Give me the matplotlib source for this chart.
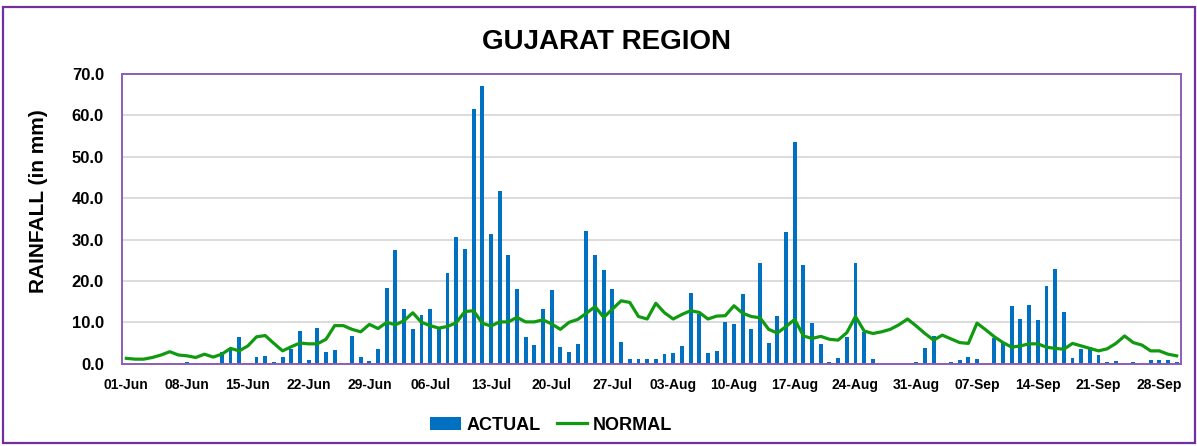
import matplotlib
matplotlib.use("Agg")
import matplotlib.pyplot as plt
import numpy as np
import pandas as pd
from matplotlib.patches import Rectangle, Patch
from matplotlib.lines import Line2D

plt.rcParams['font.family'] = ['Liberation Sans', 'DejaVu Sans']

# Daily rainfall, 01-Jun to 30-Sep
dates = pd.date_range("2023-06-01", "2023-09-30", freq="D")

actual = [
    0, 0, 0, 0, 0, 0, 0, 0.3, 0, 0,
    0, 2.9, 3.3, 6.5, 0, 1.5, 1.9, 0.3, 1.5, 3.5,
    8.0, 1.0, 8.6, 2.8, 3.2, 0, 6.7, 1.5, 0.7, 3.5,
    18.2, 27.4, 13.1, 8.5, 11.8, 13.1, 8.3, 21.8, 30.7, 27.7,
    61.6, 67.2, 31.4, 41.8, 26.3, 18.0, 6.4, 4.4, 13.3, 17.8,
    4.1, 2.8, 4.8, 32.1, 26.3, 22.7, 18.0, 5.3, 1.2, 1.1,
    1.1, 1.2, 2.3, 2.7, 4.3, 17.0, 12.0, 2.7, 3.1, 10.1,
    9.5, 16.9, 8.4, 24.4, 5.0, 11.5, 31.9, 53.5, 23.8, 9.8,
    4.7, 0.5, 1.4, 6.4, 24.4, 7.7, 1.1, 0, 0, 0,
    0, 0.4, 3.7, 6.7, 0, 0.4, 0.9, 1.5, 1.2, 0,
    6.2, 5.3, 14.0, 10.8, 14.2, 10.5, 18.8, 22.9, 12.5, 1.4,
    3.6, 4.0, 2.2, 0.4, 0.6, 0, 0.4, 0, 0.9, 0.9,
    0.9, 0.3,
]

normal = [
    1.3, 1.1, 1.1, 1.5, 2.1, 2.9, 2.1, 1.9, 1.5, 2.3,
    1.6, 2.3, 3.7, 3.1, 4.3, 6.5, 6.8, 4.9, 3.1, 4.1,
    5.0, 4.8, 4.8, 5.9, 9.2, 9.2, 8.3, 7.7, 9.5, 8.5,
    10.0, 9.4, 10.4, 12.3, 10.0, 9.2, 8.6, 9.0, 9.9, 12.6,
    12.8, 9.8, 9.1, 10.1, 10.1, 11.2, 10.1, 10.1, 10.6, 9.6,
    8.3, 10.0, 10.7, 12.2, 13.8, 11.2, 13.2, 15.2, 14.8, 11.4,
    10.8, 14.6, 12.3, 10.8, 11.9, 12.8, 12.4, 10.8, 11.5, 11.6,
    14.0, 12.2, 11.4, 11.1, 8.3, 7.4, 9.0, 10.7, 6.7, 6.1,
    6.6, 5.9, 5.7, 7.5, 11.4, 7.9, 7.3, 7.7, 8.3, 9.4,
    10.8, 9.1, 7.3, 5.7, 6.9, 6.0, 5.1, 4.9, 9.8, 8.2,
    6.5, 5.1, 4.0, 4.3, 4.8, 4.8, 4.0, 3.7, 3.5, 4.9,
    4.3, 3.7, 3.1, 3.6, 4.9, 6.7, 5.1, 4.5, 3.1, 3.1,
    2.3, 1.9,
]

tick_labels = ["01-Jun", "08-Jun", "15-Jun", "22-Jun", "29-Jun", "06-Jul",
               "13-Jul", "20-Jul", "27-Jul", "03-Aug", "10-Aug", "17-Aug",
               "24-Aug", "31-Aug", "07-Sep", "14-Sep", "21-Sep", "28-Sep"]

BLUE = "#0070C0"
GREEN = "#109A10"
PURPLE = "#7030A0"
PLOT_PURPLE = "#8E5CB8"

W, H = 1197, 446
fig = plt.figure(figsize=(W / 100, H / 100), dpi=100)

# outer chart frame
fig.patches.append(Rectangle((3 / W, 3 / H), (W - 5) / W, (H - 10) / H,
                             transform=fig.transFigure, fill=False,
                             edgecolor=PURPLE, linewidth=1.6, zorder=0))

ax = fig.add_axes([122 / W, (H - 363.7) / H, (1181 - 122) / W, (363.7 - 74) / H])

x = np.arange(len(dates))
ax.bar(x, actual, width=0.45, color=BLUE, zorder=2)
ax.plot(x, normal, color=GREEN, linewidth=2.3, zorder=3, solid_joinstyle='round')

ax.set_xlim(-0.5, len(dates) - 0.5)
ax.set_ylim(0, 70)
ax.set_yticks(np.arange(0, 71, 10))
ax.set_yticklabels([f"{v:.1f}" for v in np.arange(0, 71, 10)],
                   fontsize=12, fontweight='bold')
ax.set_xticks(x[::7])
ax.set_xticklabels(tick_labels, fontsize=10, fontweight='bold')
ax.tick_params(axis='y', length=0, pad=13)
ax.tick_params(axis='x', length=0, pad=10)

ax.grid(axis='y', color='#D9D9D9', linewidth=1.3, zorder=0)
ax.set_axisbelow(True)
for s in ax.spines.values():
    s.set_color(PLOT_PURPLE)
    s.set_linewidth(1.4)

ax.set_ylabel("RAINFALL (in mm)", fontsize=15, fontweight='bold')
ax.yaxis.set_label_coords(-(122 - 48) / (1181 - 122), 0.56)

fig.text(606 / W, 1 - 42 / H, "GUJARAT REGION", ha='center', va='center',
         fontsize=20, fontweight='bold')

handles = [Patch(facecolor=BLUE, edgecolor='none'),
           Line2D([0], [0], color=GREEN, linewidth=2.3)]
leg = fig.legend(handles, ["ACTUAL", "NORMAL"], loc='center',
                 bbox_to_anchor=(551 / W, 1 - 425 / H), ncol=2, frameon=False,
                 prop={'weight': 'bold', 'size': 13}, handlelength=1.7,
                 handleheight=0.75, handletextpad=0.3, columnspacing=0.9)

fig.savefig("out.png", dpi=100)
